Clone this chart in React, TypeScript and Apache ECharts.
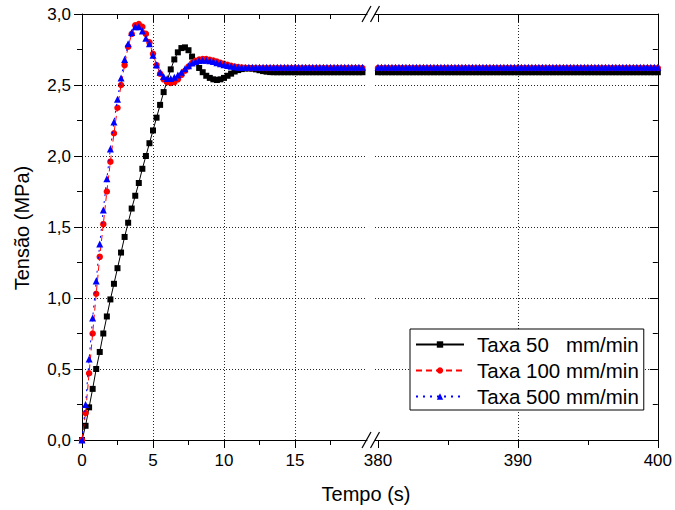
import React, { useEffect, useRef } from "react";
import * as echarts from "echarts";

// ---- data (time sampled every 0.25 s) ----
const T_STEP = 0.25;
const LEFT_START = 0;
const RIGHT_START = 380;

const black50Left = [
  0, 0.10, 0.23, 0.36, 0.50, 0.62, 0.75, 0.87, 0.99, 1.10,
  1.21, 1.32, 1.43, 1.53, 1.63, 1.72, 1.81, 1.91, 2.00, 2.09,
  2.18, 2.27, 2.36, 2.45, 2.53, 2.61, 2.68, 2.73, 2.76, 2.765,
  2.745, 2.70, 2.66, 2.62, 2.59, 2.565, 2.55, 2.54, 2.535, 2.54,
  2.55, 2.565, 2.58, 2.595, 2.605, 2.612, 2.616, 2.617, 2.615, 2.61,
  2.604, 2.598, 2.594, 2.591, 2.59, 2.59, 2.59, 2.59, 2.59, 2.59,
  2.59, 2.59, 2.59, 2.59, 2.59, 2.59, 2.59, 2.59, 2.59, 2.59,
  2.59, 2.59, 2.59, 2.59, 2.59, 2.59, 2.59, 2.59, 2.59, 2.59,
];
const red100Left = [
  0, 0.19, 0.47, 0.75, 1.03, 1.29, 1.52, 1.75, 1.96, 2.16,
  2.34, 2.50, 2.64, 2.77, 2.86, 2.92, 2.93, 2.91, 2.86, 2.80,
  2.72, 2.64, 2.58, 2.54, 2.52, 2.515, 2.52, 2.54, 2.57, 2.60,
  2.63, 2.655, 2.67, 2.68, 2.683, 2.682, 2.678, 2.672, 2.665, 2.657,
  2.65, 2.642, 2.635, 2.63, 2.626, 2.623, 2.621, 2.62, 2.62, 2.62,
  2.62, 2.62, 2.62, 2.62, 2.62, 2.62, 2.62, 2.62, 2.62, 2.62,
  2.62, 2.62, 2.62, 2.62, 2.62, 2.62, 2.62, 2.62, 2.62, 2.62,
  2.62, 2.62, 2.62, 2.62, 2.62, 2.62, 2.62, 2.62, 2.62, 2.62,
];
const blue500Left = [
  0, 0.25, 0.57, 0.86, 1.12, 1.38, 1.62, 1.84, 2.05, 2.24,
  2.40, 2.55, 2.68, 2.79, 2.87, 2.91, 2.91, 2.88, 2.83, 2.79,
  2.71, 2.64, 2.59, 2.56, 2.545, 2.545, 2.555, 2.57, 2.59, 2.615,
  2.635, 2.655, 2.665, 2.672, 2.675, 2.675, 2.67, 2.665, 2.657, 2.65,
  2.643, 2.637, 2.632, 2.628, 2.625, 2.624, 2.624, 2.625, 2.625, 2.625,
  2.625, 2.625, 2.625, 2.625, 2.625, 2.625, 2.625, 2.625, 2.625, 2.625,
  2.625, 2.625, 2.625, 2.625, 2.625, 2.625, 2.625, 2.625, 2.625, 2.625,
  2.625, 2.625, 2.625, 2.625, 2.625, 2.625, 2.625, 2.625, 2.625, 2.625,
];
const black50Right = [
  2.59, 2.59, 2.59, 2.59, 2.59, 2.59, 2.59, 2.59, 2.59, 2.59,
  2.59, 2.59, 2.59, 2.59, 2.59, 2.59, 2.59, 2.59, 2.59, 2.59,
  2.59, 2.59, 2.59, 2.59, 2.59, 2.59, 2.59, 2.59, 2.59, 2.59,
  2.59, 2.59, 2.59, 2.59, 2.59, 2.59, 2.59, 2.59, 2.59, 2.59,
  2.59, 2.59, 2.59, 2.59, 2.59, 2.59, 2.59, 2.59, 2.59, 2.59,
  2.59, 2.59, 2.59, 2.59, 2.59, 2.59, 2.59, 2.59, 2.59, 2.59,
  2.59, 2.59, 2.59, 2.59, 2.59, 2.59, 2.59, 2.59, 2.59, 2.59,
  2.59, 2.59, 2.59, 2.59, 2.59, 2.59, 2.59, 2.59, 2.59, 2.59, 2.59,
];
const red100Right = [
  2.62, 2.62, 2.62, 2.62, 2.62, 2.62, 2.62, 2.62, 2.62, 2.62,
  2.62, 2.62, 2.62, 2.62, 2.62, 2.62, 2.62, 2.62, 2.62, 2.62,
  2.62, 2.62, 2.62, 2.62, 2.62, 2.62, 2.62, 2.62, 2.62, 2.62,
  2.62, 2.62, 2.62, 2.62, 2.62, 2.62, 2.62, 2.62, 2.62, 2.62,
  2.62, 2.62, 2.62, 2.62, 2.62, 2.62, 2.62, 2.62, 2.62, 2.62,
  2.62, 2.62, 2.62, 2.62, 2.62, 2.62, 2.62, 2.62, 2.62, 2.62,
  2.62, 2.62, 2.62, 2.62, 2.62, 2.62, 2.62, 2.62, 2.62, 2.62,
  2.62, 2.62, 2.62, 2.62, 2.62, 2.62, 2.62, 2.62, 2.62, 2.62, 2.62,
];
const blue500Right = [
  2.625, 2.625, 2.625, 2.625, 2.625, 2.625, 2.625, 2.625, 2.625, 2.625,
  2.625, 2.625, 2.625, 2.625, 2.625, 2.625, 2.625, 2.625, 2.625, 2.625,
  2.625, 2.625, 2.625, 2.625, 2.625, 2.625, 2.625, 2.625, 2.625, 2.625,
  2.625, 2.625, 2.625, 2.625, 2.625, 2.625, 2.625, 2.625, 2.625, 2.625,
  2.625, 2.625, 2.625, 2.625, 2.625, 2.625, 2.625, 2.625, 2.625, 2.625,
  2.625, 2.625, 2.625, 2.625, 2.625, 2.625, 2.625, 2.625, 2.625, 2.625,
  2.625, 2.625, 2.625, 2.625, 2.625, 2.625, 2.625, 2.625, 2.625, 2.625,
  2.625, 2.625, 2.625, 2.625, 2.625, 2.625, 2.625, 2.625, 2.625, 2.625, 2.625,
];

const seriesNames = ["Taxa 50\u00A0\u00A0\u00A0mm/min", "Taxa 100 mm/min", "Taxa 500 mm/min"];
const leftTickLabels = [0, 5, 10, 15];
const leftMinorTicks = [2.5, 7.5, 12.5, 17.5];
const leftGridX = [5, 10, 15];
const rightTickLabels = [380, 390, 400];
const rightMinorTicks = [385, 395];
const rightGridX = [390];
const yGridValues = [0.5, 1.0, 1.5, 2.0, 2.5];
const xTitle = "Tempo (s)";
const yTitle = "Tensão (MPa)";

const FONT = "'Liberation Sans', Arial, sans-serif";

function pairs(start: number, vals: number[]) {
  return vals.map((v, i) => [start + i * T_STEP, v]);
}

export default function App() {
  const ref = useRef<HTMLDivElement>(null);
  useEffect(() => {
    if (!ref.current) return;
    const chart = echarts.init(ref.current, null, { renderer: "svg" });

    const gridTop = 14;
    const gridH = 426;
    const lx0 = 82, lx1 = 367, rx0 = 375, rx1 = 660;
    const pxPerSec = 14.2;
    const leftMax = (lx1 - lx0) / pxPerSec;
    const rightMin = 400 - (rx1 - rx0) / 14.1;

    const labelStyle = { color: "#000", fontSize: 17, fontFamily: FONT };
    const axisLine = { show: true, onZero: false, lineStyle: { color: "#000", width: 1 } };
    const dotted = { color: "#000", type: [1, 2], width: 1, opacity: 0.85 };

    const mkX = (grid: number, pos: string, min: number, max: number, extra: any) => ({
      type: "value",
      gridIndex: grid,
      position: pos,
      min,
      max,
      axisLine: { show: false },
      axisTick: { show: false },
      axisLabel: { show: false },
      splitLine: { show: false },
      ...extra,
    });

    const xAxes = [
      mkX(0, "bottom", 0, leftMax, {
        axisLine,
        axisTick: { show: true, customValues: leftTickLabels, length: 8, lineStyle: { color: "#000" } },
        axisLabel: { show: true, customValues: leftTickLabels, margin: 12, ...labelStyle },
      }),
      mkX(0, "bottom", 0, leftMax, {
        axisTick: { show: true, customValues: leftMinorTicks, length: 5, lineStyle: { color: "#000" } },
      }),
      mkX(0, "top", 0, leftMax, {
        axisLine,
        axisTick: { show: true, inside: true, customValues: leftTickLabels, length: 8, lineStyle: { color: "#000" } },
      }),
      mkX(0, "top", 0, leftMax, {
        axisTick: { show: true, inside: true, customValues: leftMinorTicks, length: 5, lineStyle: { color: "#000" } },
      }),
      mkX(1, "bottom", rightMin, 400, {
        axisLine,
        axisTick: { show: true, customValues: rightTickLabels, length: 8, lineStyle: { color: "#000" } },
        axisLabel: { show: true, customValues: rightTickLabels, margin: 12, ...labelStyle },
      }),
      mkX(1, "bottom", rightMin, 400, {
        axisTick: { show: true, customValues: rightMinorTicks, length: 5, lineStyle: { color: "#000" } },
      }),
      mkX(1, "top", rightMin, 400, {
        axisLine,
        axisTick: { show: true, inside: true, customValues: [380, 390], length: 8, lineStyle: { color: "#000" } },
      }),
      mkX(1, "top", rightMin, 400, {
        axisTick: { show: true, inside: true, customValues: rightMinorTicks, length: 5, lineStyle: { color: "#000" } },
      }),
    ];

    const yAxes = [
      {
        type: "value", gridIndex: 0, position: "left", min: 0, max: 3, interval: 0.5,
        axisLine,
        axisTick: { show: true, length: 8, lineStyle: { color: "#000" } },
        minorTick: { show: true, splitNumber: 2, length: 5, lineStyle: { color: "#000" } },
        axisLabel: {
          show: true, margin: 11, ...labelStyle,
          formatter: (v: number) => v.toFixed(1).replace(".", ","),
        },
        splitLine: { show: false },
      },
      {
        type: "value", gridIndex: 1, position: "left", min: 0, max: 3, interval: 0.5,
        axisLine: { show: false }, axisTick: { show: false }, axisLabel: { show: false },
        splitLine: { show: false },
      },
      {
        type: "value", gridIndex: 1, position: "right", min: 0, max: 3, interval: 0.5,
        axisLine,
        axisTick: { show: true, inside: true, length: 8, lineStyle: { color: "#000" } },
        minorTick: { show: true, splitNumber: 2, length: 5, lineStyle: { color: "#000" } },
        axisLabel: { show: false },
        splitLine: { show: false },
      },
    ];

    const styles = [
      { color: "#000000", symbol: "rect", size: 6, line: "solid" as any },
      { color: "#ff0000", symbol: "circle", size: 6.5, line: [6, 4] as any },
      { color: "#0000ff", symbol: "triangle", size: 7, line: [2, 5] as any },
    ];
    const leftData = [black50Left, red100Left, blue500Left];
    const rightData = [black50Right, red100Right, blue500Right];

    const series: any[] = [];
    // grid lines drawn as mark lines of empty helper series (behind the data)
    [0, 1].forEach((g) => {
      const xs = g === 0 ? leftGridX : rightGridX;
      series.push({
        type: "line",
        name: "grid" + g,
        xAxisIndex: g === 0 ? 0 : 4,
        yAxisIndex: g === 0 ? 0 : 1,
        data: [],
        z: 1,
        silent: true,
        markLine: {
          silent: true,
          symbol: ["none", "none"],
          label: { show: false },
          lineStyle: dotted,
          emphasis: { disabled: true },
          animation: false,
          data: [
            ...xs.map((v) => ({ xAxis: v })),
            ...yGridValues.map((v) => ({ yAxis: v })),
          ],
        },
      });
    });
    [0, 1].forEach((g) => {
      styles.forEach((s, i) => {
        series.push({
          type: "line",
          name: seriesNames[i],
          xAxisIndex: g === 0 ? 0 : 4,
          yAxisIndex: g === 0 ? 0 : 1,
          data: g === 0 ? pairs(LEFT_START, leftData[i]) : pairs(RIGHT_START, rightData[i]),
          symbol: s.symbol,
          symbolSize: s.size,
          showAllSymbol: true,
          showSymbol: true,
          clip: false,
          itemStyle: { color: s.color },
          lineStyle: { color: s.color, width: 1, type: s.line },
          z: 3 + i,
        });
      });
    });

    const slash = (cx: number, cy: number) => ({
      type: "line",
      shape: { x1: cx - 4.5, y1: cy + 8, x2: cx + 4.5, y2: cy - 8 },
      style: { stroke: "#000", lineWidth: 1.2 },
      z: 10,
    });

    chart.setOption({
      animation: false,
      backgroundColor: "#fff",
      grid: [
        { left: lx0, top: gridTop, width: lx1 - lx0, height: gridH },
        { left: rx0, top: gridTop, width: rx1 - rx0, height: gridH },
      ],
      xAxis: xAxes,
      yAxis: yAxes,
      legend: {
        data: seriesNames,
        orient: "vertical",
        left: 410,
        top: 329,
        itemWidth: 48,
        itemHeight: 8,
        itemGap: 5,
        padding: [5, 5, 3, 5],
        borderColor: "#000",
        borderWidth: 1,
        borderRadius: 0,
        backgroundColor: "#fff",
        selectedMode: false,
        textStyle: { color: "#000", fontSize: 20.5, fontFamily: FONT, padding: [0, 0, 0, 8] },
        z: 20,
      },
      graphic: [
        slash(366.5, 14), slash(375, 14), slash(366.5, 440), slash(375, 440),
        {
          type: "text", x: 366, y: 494,
          style: { text: xTitle, fill: "#000", fontSize: 20, fontFamily: FONT, textAlign: "center", textVerticalAlign: "middle" },
        },
        {
          type: "text", x: 22, y: 228, rotation: Math.PI / 2,
          style: { text: yTitle, fill: "#000", fontSize: 20, fontFamily: FONT, textAlign: "center", textVerticalAlign: "middle" },
        },
      ],
      series,
    });
    return () => chart.dispose();
  }, []);
  return <div ref={ref} style={{ width: 675, height: 510, position: "absolute", left: 0, top: 0 }} />;
}
